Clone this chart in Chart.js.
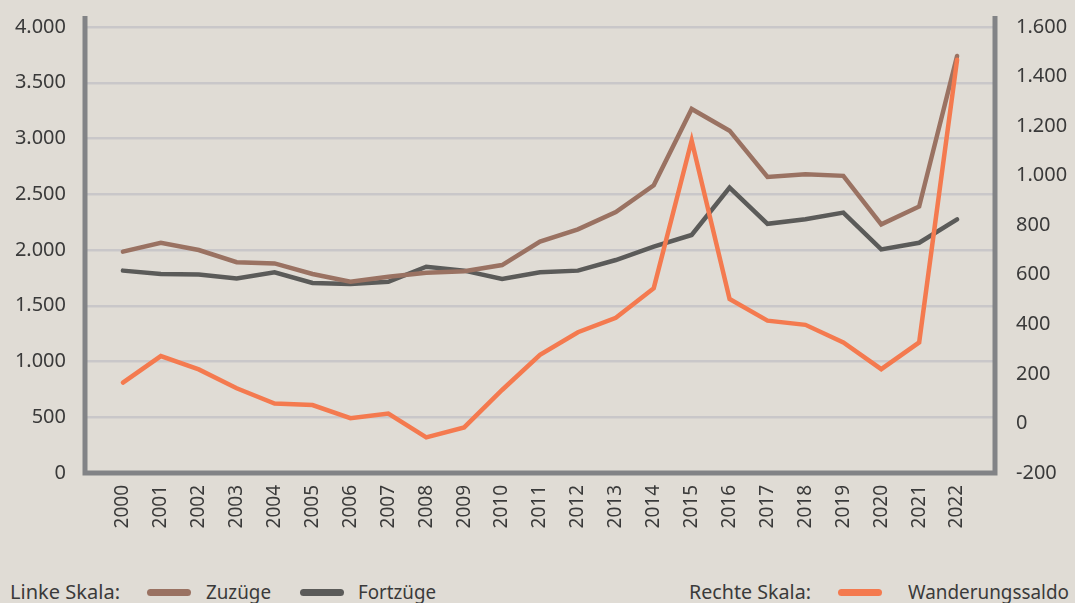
<!DOCTYPE html>
<html lang="de">
<head>
  <meta charset="UTF-8">
  <title>Zuzüge, Fortzüge und Wanderungssaldo</title>
  <script src="https://cdn.jsdelivr.net/npm/chart.js"></script>
  <style>
    html, body { margin: 0; padding: 0; background: #e0dcd5; }
    body { width: 1075px; height: 603px; position: relative; overflow: hidden; }
    #wrap { position: absolute; left: 0; top: 0; width: 1075px; height: 560px; }
    .legend { position: absolute; top: 578px; font-family: "Noto Sans", sans-serif; font-size: 20px; color: #3a3a3a; white-space: nowrap; transform-origin: left center; }
    .swatch { position: absolute; top: 589px; width: 44px; height: 7px; border-radius: 4px; }
  </style>
</head>
<body>
  <div id="wrap"><canvas id="chart" width="1075" height="560"></canvas></div>

  <div class="legend" style="left:10px" data-w="110">Linke Skala:</div>
  <div class="swatch" style="left:147px;background:#9a7262"></div>
  <div class="legend" style="left:206px" data-w="65">Zuzüge</div>
  <div class="swatch" style="left:300px;background:#5b5b59"></div>
  <div class="legend" style="left:358px" data-w="78">Fortzüge</div>
  <div class="legend" style="left:689px" data-w="122">Rechte Skala:</div>
  <div class="swatch" style="left:838px;background:#f47a4f"></div>
  <div class="legend" style="left:908px" data-w="161">Wanderungssaldo</div>

  <script>
    const years = ['2000', '2001', '2002', '2003', '2004', '2005', '2006', '2007', '2008', '2009', '2010',
      '2011', '2012', '2013', '2014', '2015', '2016', '2017', '2018', '2019', '2020', '2021', '2022'];
    const zuzuege = [1985, 2065, 2000, 1890, 1880, 1785, 1715, 1760, 1795, 1810, 1865,
      2075, 2185, 2340, 2580, 3265, 3070, 2655, 2680, 2665, 2230, 2390, 3740];
    const fortzuege = [1815, 1785, 1780, 1745, 1800, 1705, 1695, 1715, 1850, 1815, 1740,
      1800, 1815, 1910, 2030, 2135, 2560, 2235, 2275, 2335, 2005, 2065, 2275];
    const saldo = [165, 272, 218, 142, 80, 74, 21, 40, -56, -16, 135,
      277, 368, 426, 546, 1142, 502, 415, 398, 327, 219, 327, 1468];
    const leftTicks = [0, 500, 1000, 1500, 2000, 2500, 3000, 3500, 4000];
    const rightTicks = [-200, 0, 200, 400, 600, 800, 1000, 1200, 1400, 1600];

    // empty slot on both ends so the first/last year sit one step from the axes
    const labels = [''].concat(years, ['']);
    const pad = arr => [null].concat(arr, [null]);

    const fmt = v => String(v).replace(/\B(?=(\d{3})+(?!\d))/g, '.');
    // small lineHeight keeps the label overhang from pushing the plot area down
    const tickFont = { family: '"Noto Sans", sans-serif', size: 20, lineHeight: 0.6 };

    // squeeze legend texts to the width they have in the original
    document.querySelectorAll('.legend').forEach(el => {
      const w = el.getBoundingClientRect().width;
      el.style.transform = 'scaleX(' + (Number(el.dataset.w) / w) + ')';
    });

    // thick grey axis frame, drawn a little above the top gridline
    const axisFrame = {
      id: 'axisFrame',
      afterDatasetsDraw(chart) {
        const { ctx, chartArea: a } = chart;
        ctx.save();
        ctx.strokeStyle = '#828386';
        ctx.lineWidth = 5;
        ctx.beginPath();
        ctx.moveTo(a.left, a.top - 11);
        ctx.lineTo(a.left, a.bottom);
        ctx.lineTo(a.right, a.bottom);
        ctx.lineTo(a.right, a.top - 11);
        ctx.stroke();
        ctx.restore();
      }
    };

    const lineStyle = color => ({
      borderColor: color,
      backgroundColor: color,
      borderWidth: 4.5,
      pointRadius: 0,
      tension: 0,
      borderCapStyle: 'round',
      borderJoinStyle: 'miter',
      spanGaps: false
    });

    new Chart(document.getElementById('chart'), {
      type: 'line',
      data: {
        labels: labels,
        datasets: [
          Object.assign({ label: 'Wanderungssaldo', data: pad(saldo), yAxisID: 'y1' }, lineStyle('#f47a4f')),
          Object.assign({ label: 'Zuzüge', data: pad(zuzuege), yAxisID: 'y' }, lineStyle('#9a7262')),
          Object.assign({ label: 'Fortzüge', data: pad(fortzuege), yAxisID: 'y' }, lineStyle('#5b5b59'))
        ]
      },
      options: {
        responsive: false,
        animation: false,
        layout: { padding: { top: 27, right: 0, left: 0, bottom: 0 } },
        plugins: { legend: { display: false }, tooltip: { enabled: false } },
        scales: {
          x: {
            offset: false,
            grid: { display: false, drawTicks: false },
            border: { display: false },
            ticks: {
              autoSkip: false, minRotation: 90, maxRotation: 90, padding: 12,
              color: '#3a3a3a', font: { family: tickFont.family, size: 19 }
            },
            afterFit: s => { s.height = 87; }
          },
          y: {
            position: 'left',
            min: leftTicks[0],
            max: leftTicks[leftTicks.length - 1],
            afterBuildTicks: s => { s.ticks = leftTicks.map(v => ({ value: v })); },
            grid: { color: '#c9c7c9', lineWidth: 2.5, drawTicks: false },
            border: { display: false },
            ticks: { padding: 19, color: '#3a3a3a', font: tickFont, callback: v => fmt(v) },
            afterFit: s => { s.width = 85; }
          },
          y1: {
            position: 'right',
            min: rightTicks[0],
            max: rightTicks[rightTicks.length - 1],
            afterBuildTicks: s => { s.ticks = rightTicks.map(v => ({ value: v })); },
            grid: { display: false, drawTicks: false },
            border: { display: false },
            ticks: { padding: 21, color: '#3a3a3a', font: tickFont, callback: v => fmt(v) },
            afterFit: s => { s.width = 80; }
          }
        }
      },
      plugins: [axisFrame]
    });
  </script>
</body>
</html>
